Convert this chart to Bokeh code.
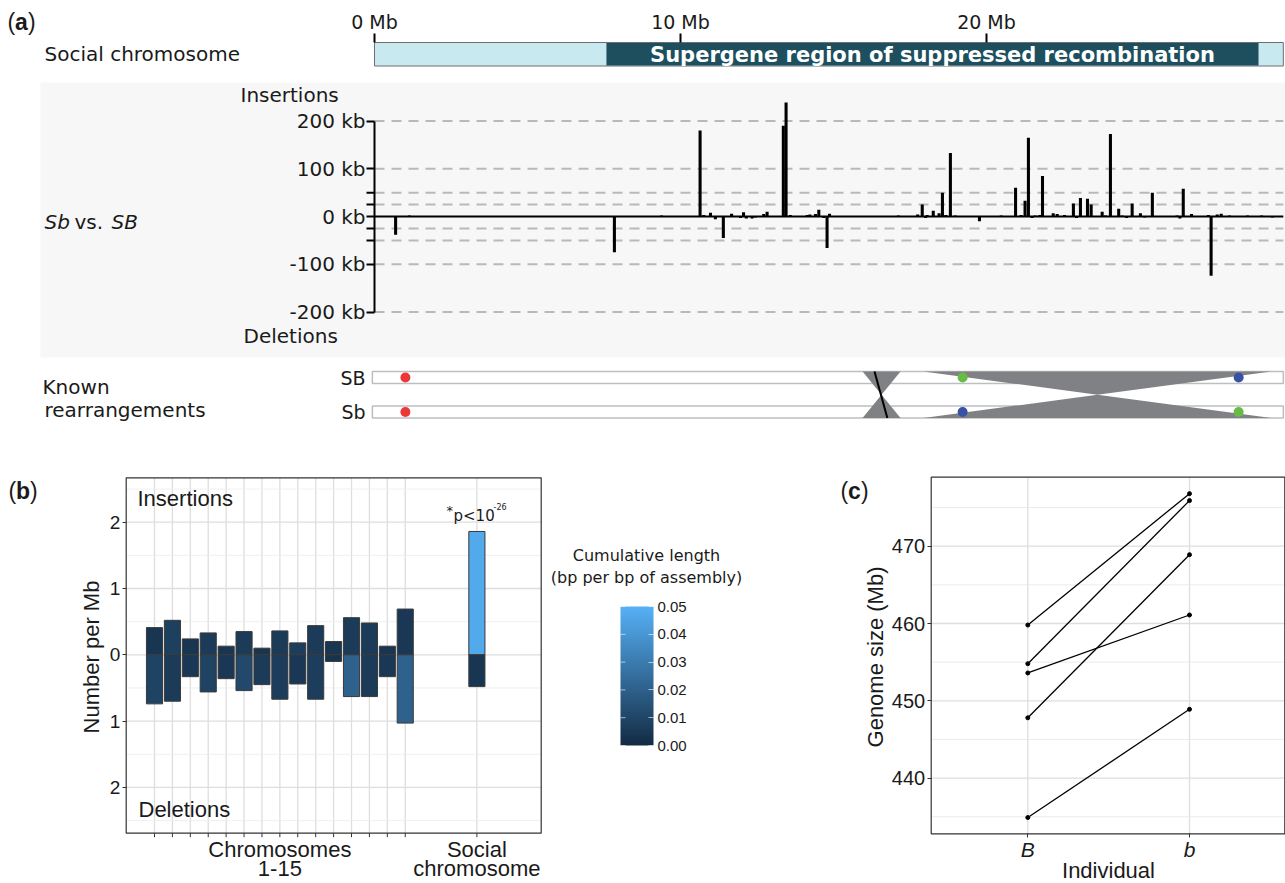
import numpy as np
from bokeh.plotting import figure
from bokeh.models import (Range1d, FixedTicker, Label, LinearColorMapper,
                          ColumnDataSource, LinearAxis, PrintfTickFormatter)
from bokeh.layouts import column, row
from bokeh.embed import file_html
from bokeh.resources import INLINE

# ---------------- data ----------------
# (a) social chromosome
chrom_length_mb = 29.7
supergene_start_mb = 7.58
supergene_end_mb = 28.89
mb_ticks = [0, 10, 20]
mb_tick_labels = {0: "0 Mb", 10: "10 Mb", 20: "20 Mb"}

sv_pos_mb = [0.69, 1.14, 7.84, 9.38, 10.64, 10.76, 10.98, 11.14, 11.40, 11.67, 11.96, 12.06,
             12.15, 12.34, 12.45, 12.72, 12.83, 13.36, 13.45, 13.59, 14.14, 14.23, 14.41, 14.52,
             14.68, 14.79, 14.87, 17.12, 17.75, 17.90, 18.01, 18.06, 18.26, 18.45, 18.56, 18.67,
             18.82, 18.98, 19.77, 20.48, 20.95, 21.13, 21.26, 21.37, 21.49, 21.59, 21.74, 21.83,
             22.18, 22.31, 22.55, 22.84, 22.94, 23.07, 23.30, 23.42, 23.78, 23.89, 24.05, 24.32,
             24.43, 24.58, 24.76, 25.03, 25.17, 25.42, 26.23, 26.32, 26.43, 26.70, 27.25, 27.34,
             27.54, 27.67, 27.94, 28.53, 28.99, 29.34]
sv_kb = [-38, 2, -75, 2, 180, 3, 8, -6, -45, 6, -3, 9,
         -4, -4, -2, 5, 10, 190, 239, 3, 3, 4, 5, 14,
         -3, -66, 6, 2, 4, 25, -3, 3, 12, 7, 50, 3,
         133, 2, -10, 2, 60, 3, 33, 165, -3, 2, 3, 85,
         7, 5, 3, 27, -3, 39, 37, 25, 10, 2, 173, 16,
         2, -3, 27, 7, -2, 50, 2, -4, 58, 5, 3, -124,
         4, 6, 2, 2, 2, -2]
kb_label_ticks = [-200, -100, 0, 100, 200]
kb_tick_labels = {200: "200 kb", 100: "100 kb", 0: "0 kb", -100: "-100 kb", -200: "-200 kb"}
kb_minor_ticks = [-50, -25, 25, 50]
kb_grid = [-200, -100, -50, -25, 25, 50, 100, 200]

# known rearrangements
tracks = ["SB", "Sb"]
inversions = [(15.95, 17.19), (17.94, 29.31)]
inv_line = (16.34, 16.76)
marker_pos = [1.01, 19.22, 28.24]
marker_col_SB = ["#ec3737", "#66bc45", "#3752a5"]
marker_col_Sb = ["#ec3737", "#3752a5", "#66bc45"]

# (b) insertions / deletions per Mb
chrom_ids = list(range(1, 16))
ins_per_mb = [0.41, 0.52, 0.24, 0.33, 0.13, 0.35, 0.10, 0.36, 0.18, 0.44, 0.20, 0.56, 0.48, 0.13, 0.69]
del_per_mb = [0.74, 0.70, 0.33, 0.56, 0.36, 0.54, 0.45, 0.67, 0.44, 0.67, 0.10, 0.63, 0.63, 0.33, 1.03]
ins_cum = [0.004, 0.008, 0.004, 0.006, 0.004, 0.006, 0.004, 0.006, 0.007, 0.006, 0.004, 0.006, 0.006, 0.004, 0.005]
del_cum = [0.009, 0.006, 0.005, 0.009, 0.005, 0.011, 0.006, 0.007, 0.005, 0.007, 0.003, 0.020, 0.006, 0.005, 0.020]
social_pos = 19
social_ins, social_del = 1.86, 0.48
social_ins_cum, social_del_cum = 0.047, 0.004
b_yticks = [-2, -1, 0, 1, 2]
b_yminor = [-2.5, -1.5, -0.5, 0.5, 1.5, 2.5]
b_group_labels = [(8, "Chromosomes", "1-15"), (19, "Social", "chromosome")]
cb_ticks = [0.0, 0.01, 0.02, 0.03, 0.04, 0.05]

# (c) genome sizes
individuals = ["B", "b"]
genome_B = [459.8, 454.8, 453.6, 447.8, 434.9]
genome_b = [476.8, 475.9, 461.1, 468.9, 448.9]
c_yticks = [440, 450, 460, 470]
c_yminor = [435, 445, 455, 465, 475]

# ---------------- helpers ----------------
FA = "DejaVu Sans"
FB = "Liberation Sans"
TXT = "#1a1a1a"


def lab(p, x, y, text, size, font, style="normal", align="left", baseline="middle",
        color=TXT, **kw):
    p.add_layout(Label(x=x, y=y, text=text, text_font=font,
                       text_font_size=f"{size}px", text_font_style=style,
                       text_align=align, text_baseline=baseline, text_color=color, **kw))


def style_axis(ax, font, size, tick_out=4, color="#333333"):
    ax.axis_line_color = None
    ax.major_tick_out = tick_out
    ax.major_tick_in = 0
    ax.major_tick_line_color = color
    ax.minor_tick_line_color = None
    ax.major_label_text_font = font
    ax.major_label_text_font_size = f"{size}px"
    ax.major_label_text_color = TXT
    ax.axis_label_text_font = font
    ax.axis_label_text_font_style = "normal"
    ax.axis_label_text_color = TXT


def canvas(w, h, xr, yr):
    p = figure(x_range=xr, y_range=yr, frame_width=w, frame_height=h, min_border=0,
               x_axis_location=None, y_axis_location=None, outline_line_color=None,
               toolbar_location=None, output_backend="svg")
    p.grid.visible = False
    return p


def letter(p, fx, fy, px, py, ch, **kw):
    # "(x)" with a bold letter, positioned in page pixels
    w = {"a": 12.8, "b": 14, "c": 12.8}[ch]
    lab(p, fx(px), fy(py), "(", 23, FB, **kw)
    lab(p, fx(px + 7.6), fy(py), ch, 23, FB, style="bold", **kw)
    lab(p, fx(px + 7.6 + w), fy(py), ")", 23, FB, **kw)


# ---------------- (a): one canvas, x in Mb, y in pixels ----------------
PX_PER_MB = 30.6
X0 = 374          # pixel of 0 Mb
A_W, A_H = 1285, 430
a = canvas(A_W, A_H, Range1d(-X0 / PX_PER_MB, (A_W - X0) / PX_PER_MB), Range1d(A_H, 0))
KB0, PX_PER_KB = 216, 0.4775
a.extra_y_ranges = {"kb": Range1d((KB0 - A_H) / PX_PER_KB, KB0 / PX_PER_KB)}
a.extra_x_ranges = {"px": Range1d(0, A_W)}
ident = lambda v: v

# grey background of the SV panel
a.quad(left=[40], right=[A_W], top=[82], bottom=[357], x_range_name="px",
       fill_color="#f7f7f7", line_color=None)

# chromosome header
a.quad(left=[0], right=[chrom_length_mb], top=[42], bottom=[65.5],
       fill_color="#c9e9f1", line_color="#6d6e71", line_width=1)
a.quad(left=[supergene_start_mb], right=[supergene_end_mb], top=[42.5], bottom=[65],
       fill_color="#1d4f5e", line_color=None)
xax = LinearAxis(fixed_location=42, ticker=FixedTicker(ticks=mb_ticks),
                 major_label_overrides=mb_tick_labels)
style_axis(xax, FA, 19, tick_out=9, color="black")
xax.major_tick_line_width = 2
xax.major_label_standoff = 1
a.add_layout(xax, "above")
lab(a, (supergene_start_mb + supergene_end_mb) / 2, 54,
    "Supergene region of suppressed recombination", 21, FA, style="bold",
    align="center", color="white")
letter(a, ident, ident, 7, 21, "a", x_range_name="px")
lab(a, 44, 53, "Social chromosome", 20, FA, x_range_name="px")

# SV bars
a.segment(x0=[0] * len(kb_grid), x1=[chrom_length_mb] * len(kb_grid), y0=kb_grid, y1=kb_grid,
          y_range_name="kb", line_color="#b9b9b9", line_dash="10 7", line_width=2)
a.segment(x0=[0], x1=[chrom_length_mb], y0=[0], y1=[0], y_range_name="kb",
          line_color="black", line_width=2)
a.vbar(x=sv_pos_mb, top=sv_kb, bottom=0, width=0.1, y_range_name="kb",
       fill_color="black", line_color=None)
TICK_MB = 8 / PX_PER_MB
a.segment(x0=[-TICK_MB] * len(kb_minor_ticks), x1=[0] * len(kb_minor_ticks),
          y0=kb_minor_ticks, y1=kb_minor_ticks, y_range_name="kb",
          line_color="black", line_width=2)
yax = LinearAxis(y_range_name="kb", fixed_location=0, bounds=(-200, 200),
                 ticker=FixedTicker(ticks=kb_label_ticks), major_label_overrides=kb_tick_labels)
style_axis(yax, FA, 20, tick_out=8, color="black")
yax.axis_line_color = "black"
yax.axis_line_width = 2
yax.major_tick_line_width = 2
yax.major_label_standoff = 1
a.add_layout(yax, "left")
lab(a, 240, 94, "Insertions", 20, FA, x_range_name="px")
lab(a, 243, 335, "Deletions", 20, FA, x_range_name="px")
lab(a, 44, 221, "Sb", 20, FA, style="italic", x_range_name="px")
lab(a, 74, 221, "vs.", 20, FA, x_range_name="px")
lab(a, 111, 221, "SB", 20, FA, style="italic", x_range_name="px")

# known rearrangements
track_px = [377, 411.5]
half = 6
a.quad(left=[-0.07] * 2, right=[chrom_length_mb] * 2,
       top=[t - half for t in track_px], bottom=[t + half for t in track_px],
       fill_color="white", line_color="#bcbec0", line_width=1.5)
top_y, bot_y = track_px[0] - half, track_px[1] + half
mid_y = (top_y + bot_y) / 2
xs, ys = [], []
for s, e in inversions:
    m = (s + e) / 2
    xs += [[s, e, m], [s, e, m]]
    ys += [[top_y, top_y, mid_y], [bot_y, bot_y, mid_y]]
a.patches(xs=xs, ys=ys, fill_color="#808184", line_color=None)
a.segment(x0=[inv_line[0]], y0=[top_y], x1=[inv_line[1]], y1=[bot_y],
          line_color="black", line_width=2)
a.scatter(x=marker_pos, y=[track_px[0]] * 3, size=10, fill_color=marker_col_SB, line_color=None)
a.scatter(x=marker_pos, y=[track_px[1]] * 3, size=10, fill_color=marker_col_Sb, line_color=None)
lab(a, 365, track_px[0], tracks[0], 19, FA, align="right", x_range_name="px")
lab(a, 365, track_px[1], tracks[1], 19, FA, align="right", x_range_name="px")
lab(a, 42, 386, "Known", 20, FA, x_range_name="px")
lab(a, 44, 409, "rearrangements", 20, FA, x_range_name="px")


# ---------------- colour mapping ----------------
def lerp_palette(c1, c2, n):
    p1 = np.array([int(c1[i:i + 2], 16) for i in (1, 3, 5)], float)
    p2 = np.array([int(c2[i:i + 2], 16) for i in (1, 3, 5)], float)
    return ["#%02x%02x%02x" % tuple(int(round(v)) for v in p1 + (p2 - p1) * t)
            for t in np.linspace(0, 1, n)]

palette = lerp_palette("#132B43", "#56B1F7", 256)
mapper = LinearColorMapper(palette=palette, low=0, high=0.05)

TOP = 430           # page y of bottom row
BOT_H = 883 - TOP

# ---------------- (b) ----------------
B_W = 550
BX1, BPX = 154, 17.91      # page x of chromosome 1, px per slot
BY0, BPY = 654.3, 66.3     # page y of 0, px per unit
bxr = Range1d(1 - BX1 / BPX, 1 + (B_W - BX1) / BPX)
byr = Range1d(-(TOP + BOT_H - BY0) / BPY, (BY0 - TOP) / BPY)
bp = canvas(B_W, BOT_H, bxr, byr)
bx = lambda px: 1 + (px - BX1) / BPX
by = lambda py: (BY0 - py) / BPY
box_b = (bx(125.7), bx(540.7), by(832.7), by(477.3))
pos_all = chrom_ids + [social_pos]

bp.segment(x0=pos_all, x1=pos_all, y0=[box_b[2]] * len(pos_all), y1=[box_b[3]] * len(pos_all),
           line_color="#dedede", line_width=1.3)
bp.segment(x0=[box_b[0]] * len(b_yminor), x1=[box_b[1]] * len(b_yminor), y0=b_yminor, y1=b_yminor,
           line_color="#ececec", line_width=0.8)
bp.segment(x0=[box_b[0]] * len(b_yticks), x1=[box_b[1]] * len(b_yticks), y0=b_yticks, y1=b_yticks,
           line_color="#dedede", line_width=1.3)

src_ins = ColumnDataSource(dict(x=pos_all, top=ins_per_mb + [social_ins],
                                cum=ins_cum + [social_ins_cum]))
src_del = ColumnDataSource(dict(x=pos_all, bottom=[-v for v in del_per_mb + [social_del]],
                                cum=del_cum + [social_del_cum]))
bp.vbar(x="x", top="top", bottom=0, width=0.9, source=src_ins,
        fill_color={"field": "cum", "transform": mapper}, line_color="#3a3a3a", line_width=1)
bp.vbar(x="x", top=0, bottom="bottom", width=0.9, source=src_del,
        fill_color={"field": "cum", "transform": mapper}, line_color="#3a3a3a", line_width=1)
bp.quad(left=[box_b[0]], right=[box_b[1]], bottom=[box_b[2]], top=[box_b[3]],
        fill_color=None, line_color="#333333", line_width=1.2)
# x tick marks
bp.segment(x0=pos_all, x1=pos_all, y0=[box_b[2]] * len(pos_all),
           y1=[box_b[2] - 4 / BPY] * len(pos_all), line_color="#333333", line_width=1)

byax = LinearAxis(fixed_location=box_b[0], ticker=FixedTicker(ticks=b_yticks),
                  major_label_overrides={-2: "2", -1: "1", 0: "0", 1: "1", 2: "2"})
style_axis(byax, FB, 19)
byax.major_label_standoff = 2
byax.axis_label = "Number per Mb"
byax.axis_label_text_font_size = "22px"
byax.axis_label_standoff = 3
bp.add_layout(byax, "left")
for xpos, l1, l2 in b_group_labels:
    lab(bp, xpos, by(849), l1, 22, FB, align="center")
    lab(bp, xpos, by(868), l2, 22, FB, align="center")

letter(bp, bx, by, 8, 490, "b")
lab(bp, bx(137), by(498), "Insertions", 22, FB)
lab(bp, bx(138), by(809), "Deletions", 22, FB)
lab(bp, bx(446), by(510), "*", 13, FA)
lab(bp, bx(453), by(515), "p<10", 15, FA)
lab(bp, bx(493), by(506), "-26", 8, FA)

# ---------------- colour bar ----------------
CB_X0, CB_W = B_W, 280
CV_TOP, CV_PER = 606, 2780      # page y of 0.05, px per unit value
cyr = Range1d(0.05 - (TOP + BOT_H - CV_TOP) / CV_PER, 0.05 + (CV_TOP - TOP) / CV_PER)
cb = canvas(CB_W, BOT_H, Range1d(CB_X0, CB_X0 + CB_W), cyr)
grad = np.linspace(0, 0.05, 256).reshape(-1, 1)
cb.image(image=[grad], x=620, y=0, dw=33, dh=0.05, color_mapper=mapper)
cb.segment(x0=[620] * len(cb_ticks), x1=[625] * len(cb_ticks), y0=cb_ticks, y1=cb_ticks,
           line_color="white", line_alpha=0.6, line_width=1)
rax = LinearAxis(fixed_location=653, ticker=FixedTicker(ticks=cb_ticks),
                 formatter=PrintfTickFormatter(format="%.2f"))
style_axis(rax, FB, 15, color="white")
rax.major_tick_in = 5
rax.major_tick_out = 0
rax.major_tick_line_alpha = 0.6
rax.major_label_standoff = 4
cb.add_layout(rax, "right")
cy = lambda py: 0.05 + (CV_TOP - py) / CV_PER
lab(cb, 646, cy(555), "Cumulative length", 16, FA, align="center")
lab(cb, 646, cy(577), "(bp per bp of assembly)", 16, FA, align="center")

# ---------------- (c) ----------------
C_X0 = B_W + CB_W
C_W = 1285 - C_X0
CXB, CPX = 1027.3, 161.7    # page x of B, px per unit
CY460, CPY = 623, 7.73      # page y of 460 Mb, px per Mb
cxr = Range1d(1 + (C_X0 - CXB) / CPX, 1 + (1285 - CXB) / CPX)
cyr2 = Range1d(460 - (TOP + BOT_H - CY460) / CPY, 460 + (CY460 - TOP) / CPY)
cp = canvas(C_W, BOT_H, cxr, cyr2)
cx = lambda px: 1 + (px - CXB) / CPX
cyy = lambda py: 460 + (CY460 - py) / CPY
box_c = (cx(930.7), cx(1284.3), cyy(833.3), cyy(476.7))
ind_x = [1, 2]
cp.segment(x0=ind_x, x1=ind_x, y0=[box_c[2]] * 2, y1=[box_c[3]] * 2,
           line_color="#dedede", line_width=1.3)
cp.segment(x0=[box_c[0]] * len(c_yminor), x1=[box_c[1]] * len(c_yminor), y0=c_yminor, y1=c_yminor,
           line_color="#e9e9e9", line_width=0.9)
cp.segment(x0=[box_c[0]] * len(c_yticks), x1=[box_c[1]] * len(c_yticks), y0=c_yticks, y1=c_yticks,
           line_color="#dedede", line_width=1.3)
cp.segment(x0=[ind_x[0]] * len(genome_B), y0=genome_B, x1=[ind_x[1]] * len(genome_b), y1=genome_b,
           line_color="black", line_width=1.3)
cp.scatter(x=[ind_x[0]] * len(genome_B) + [ind_x[1]] * len(genome_b), y=genome_B + genome_b,
           size=4, fill_color="black", line_color="black")
cp.quad(left=[box_c[0]], right=[box_c[1]], bottom=[box_c[2]], top=[box_c[3]],
        fill_color=None, line_color="#333333", line_width=1.2)
cxax = LinearAxis(fixed_location=box_c[2], ticker=FixedTicker(ticks=ind_x),
                  major_label_overrides={1: individuals[0], 2: individuals[1]})
style_axis(cxax, FB, 21)
cxax.major_label_text_font_style = "italic"
cxax.major_label_standoff = 0
cp.add_layout(cxax, "below")
lab(cp, cx(1108), cyy(870), "Individual", 22, FB, align="center")
cyax = LinearAxis(fixed_location=box_c[0], ticker=FixedTicker(ticks=c_yticks))
style_axis(cyax, FB, 20)
cyax.major_label_standoff = 2
cyax.axis_label = "Genome size (Mb)"
cyax.axis_label_text_font_size = "22px"
cyax.axis_label_standoff = 1
cp.add_layout(cyax, "left")
letter(cp, cx, cyy, 840, 490, "c")

# ---------------- layout ----------------
layout = column(a, row(bp, cb, cp))

with open("out.html", "w") as fh:
    fh.write(file_html(layout, INLINE))
